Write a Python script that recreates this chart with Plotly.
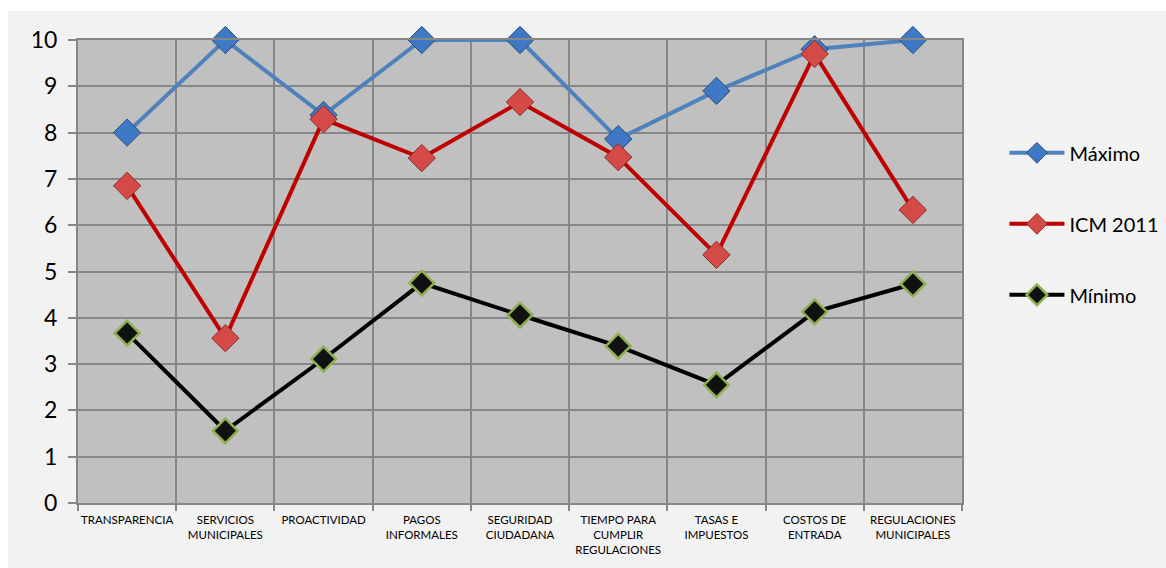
import plotly.graph_objects as go

categories = ["TRANSPARENCIA", "SERVICIOS<br>MUNICIPALES", "PROACTIVIDAD", "PAGOS<br>INFORMALES",
              "SEGURIDAD<br>CIUDADANA", "TIEMPO PARA<br>CUMPLIR<br>REGULACIONES", "TASAS E<br>IMPUESTOS",
              "COSTOS DE<br>ENTRADA", "REGULACIONES<br>MUNICIPALES"]
maximo = [8.0, 10.0, 8.38, 10.0, 10.0, 7.86, 8.9, 9.8, 10.0]
icm2011 = [6.85, 3.56, 8.29, 7.45, 8.66, 7.47, 5.36, 9.7, 6.33]
minimo = [3.67, 1.56, 3.11, 4.75, 4.06, 3.39, 2.55, 4.13, 4.73]
y_ticks = [0, 1, 2, 3, 4, 5, 6, 7, 8, 9, 10]

W, H = 1166, 568
L, R, T, B = 78, 204, 40, 65
pw, ph = W - L - R, H - T - B

fig = go.Figure()
fig.add_trace(go.Scatter(x=categories, y=maximo, name="Máximo", mode="lines+markers",
                         line=dict(color="#4f81bd", width=4), cliponaxis=False,
                         marker=dict(symbol="diamond", size=21, color="#3f78c4",
                                     line=dict(color="#2c4d75", width=1)),
                         legendgroup="a"))
fig.add_trace(go.Scatter(x=categories, y=icm2011, name="ICM 2011", mode="lines+markers",
                         line=dict(color="#c00000", width=4), cliponaxis=False,
                         marker=dict(symbol="diamond", size=21, color="#d44a47",
                                     line=dict(color="#8c2b2a", width=1)),
                         legendgroup="b"))
fig.add_trace(go.Scatter(x=categories, y=minimo, name="Mínimo", mode="lines+markers",
                         line=dict(color="#000000", width=4), cliponaxis=False,
                         marker=dict(symbol="diamond", size=19, color="#111111",
                                     line=dict(color="#8fb04f", width=2.5)),
                         legendgroup="c"))

fig.update_layout(
    width=W, height=H,
    margin=dict(l=L, r=R, t=T, b=B, autoexpand=False),
    paper_bgcolor="white",
    plot_bgcolor="rgba(0,0,0,0)",
    font=dict(family="Lato, 'Open Sans', sans-serif", color="#000000"),
    showlegend=True,
    legend=dict(x=1.048, y=0.603, xanchor="left", yanchor="middle",
                font=dict(size=20, color="#000000"), tracegroupgap=42,
                traceorder="grouped", bgcolor="rgba(0,0,0,0)", itemwidth=55),
    shapes=[
        dict(type="rect", xref="paper", yref="paper",
             x0=(8 - L) / pw, x1=(W - L) / pw + 0.01, y0=-(B + 5) / ph, y1=(ph + T - 11) / ph,
             fillcolor="#f2f2f2", line=dict(width=0), layer="below"),
        dict(type="rect", xref="paper", yref="paper", x0=0, x1=1, y0=0, y1=1,
             fillcolor="#c0c0c0", line=dict(width=0), layer="below"),
    ],
)
fig.update_xaxes(type="category", tickson="boundaries", range=[-0.5, 8.5],
                 automargin=False, tickangle=0, ticklabelstandoff=5,
                 showgrid=True, gridcolor="#878787", gridwidth=2,
                 showline=True, linecolor="#878787", linewidth=2, mirror=True,
                 ticks="outside", ticklen=6, tickcolor="#878787", tickwidth=2,
                 tickfont=dict(size=11.5, family="Lato, sans-serif", color="#000000"))
fig.update_yaxes(range=[0, 10], tickvals=y_ticks, showgrid=True, gridcolor="#878787", gridwidth=2,
                 automargin=False, ticklabelstandoff=6,
                 showline=True, linecolor="#878787", linewidth=2, mirror=True,
                 ticks="outside", ticklen=8, tickcolor="#878787", tickwidth=2,
                 zeroline=False,
                 tickfont=dict(size=23, family="Lato, sans-serif", color="#000000"))

fig.write_html("out.html")
